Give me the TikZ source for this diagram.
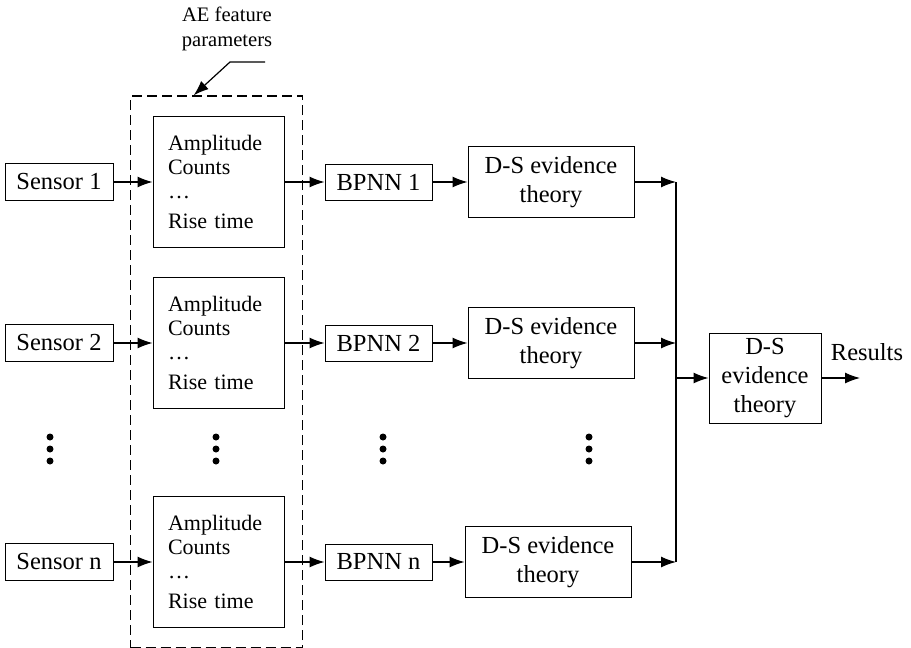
\documentclass[tikz,border=0pt]{standalone}
\usepackage{fontspec}
\setmainfont{Liberation Serif}
\usetikzlibrary{fit,positioning,arrows.meta}

\tikzset{
  block/.style = {draw, line width = .5pt, inner sep = 0pt, align = center, font = \fontsize{12.25}{14.5}\selectfont},
  sensor/.style = {block, minimum width = 54pt, minimum height = 18.5pt},
  bpnn/.style = {block, minimum width = 53.5pt, minimum height = 18pt},
  fusion/.style = {block, minimum width = 83pt, minimum height = 35.5pt},
  feature/.style = {draw, line width = .5pt, minimum height = 65.5pt, inner xsep = 7.5pt, inner ysep = 0pt, text width = 50.5pt, align = left, font = \fontsize{11}{12}\selectfont},
  link/.style = {-{Latex[length = 7.5pt, width = 5.5pt]}, line width = .6pt},
}

\begin{document}
\begin{tikzpicture}[x = .5pt, y = -.5pt]
\useasboundingbox (0,0) rectangle (911,648);
% sensors
\node[sensor] (sensor1) at (59,182) {Sensor 1};
\node[sensor] (sensor2) at (59,343) {Sensor 2};
\node[sensor] (sensorn) at (59,562) {Sensor n};
% feature sets
\node[feature] (feat1) at (218.5,182) {Amplitude\\Counts\\\dots\\[3pt]Rise time};
\node[feature] (feat2) at (218.5,343) {Amplitude\\Counts\\\dots\\[3pt]Rise time};
\node[feature] (featn) at (218.5,562) {Amplitude\\Counts\\\dots\\[3pt]Rise time};
\node[draw, dashed, line width = .75pt, dash pattern = on 5pt off 2.5pt, inner sep = 10pt, xshift = -1pt, fit = (feat1) (featn)] (params) {};
% networks
\node[bpnn] (bpnn1) at (378.5,182) {BPNN 1};
\node[bpnn] (bpnn2) at (378.5,343) {BPNN 2};
\node[bpnn] (bpnnn) at (378.5,562) {BPNN n};
% local fusion
\node[fusion] (ds1) at (551,182) {D-S evidence\\theory};
\node[fusion] (ds2) at (551,343) {D-S evidence\\theory};
\node[fusion] (dsn) at (548,562) {D-S evidence\\theory};
% global fusion
\node[block, minimum width = 56pt, minimum height = 45pt] (final) at (765,378) {D-S\\evidence\\theory};
\node[font = \fontsize{12.25}{14}\selectfont] (results) at (867,352) {Results};
\coordinate (out) at (860,378);
\coordinate (jtop) at (676,182);
\coordinate (jbot) at (676,562);

% label of the dashed group
\node[align = center, font = \fontsize{10.3}{12.5}\selectfont] (aelabel) at (227,29) {AE feature\\parameters};
\coordinate (tail) at (265,62);
\coordinate (bend) at (230,62);
\draw[link] (tail) -- (bend) -- ([xshift = 32pt]params.north west);

% rows
\draw[link] (sensor1) -- (feat1);
\draw[link] (sensor2) -- (feat2);
\draw[link] (sensorn) -- (featn);
\draw[link] (feat1) -- (bpnn1);
\draw[link] (feat2) -- (bpnn2);
\draw[link] (featn) -- (bpnnn);
\draw[link] (bpnn1) -- (ds1);
\draw[link] (bpnn2) -- (ds2);
\draw[link] (bpnnn) -- (dsn);
\draw[link] (ds1) -- (jtop);
\draw[link] (ds2.east) -- (ds2.east -| jtop);
\draw[link] (dsn) -- (jbot);
\draw[line width = .6pt] (jtop) -- (jbot);
\draw[link] (final.west -| jtop) -- (final.west);
\draw[link] (final) -- (out);

% vertical dots
\foreach \x in {50,216,383,589}
  \foreach \y in {437,449,461}
    \fill (\x,\y) circle (1.75pt);
\end{tikzpicture}
\end{document}
